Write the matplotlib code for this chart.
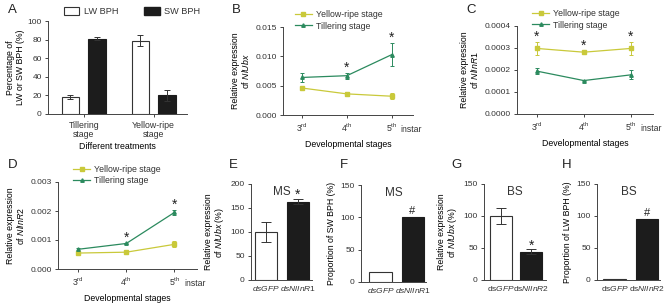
import matplotlib
matplotlib.use('Agg')
import matplotlib.pyplot as plt
from matplotlib.patches import Patch
from matplotlib.lines import Line2D

W, H = 669, 303
plt.rcParams['font.family'] = ['Liberation Sans', 'DejaVu Sans']
plt.rcParams['font.size'] = 6.0
plt.rcParams['axes.edgecolor'] = '#444444'
plt.rcParams['axes.linewidth'] = 0.7
plt.rcParams['xtick.color'] = '#444444'
plt.rcParams['ytick.color'] = '#444444'
plt.rcParams['xtick.labelcolor'] = '#333333'
plt.rcParams['ytick.labelcolor'] = '#333333'
plt.rcParams['xtick.major.size'] = 2.5
plt.rcParams['ytick.major.size'] = 2.5
plt.rcParams['xtick.major.width'] = 0.7
plt.rcParams['ytick.major.width'] = 0.7
plt.rcParams['xtick.major.pad'] = 2.5
plt.rcParams['ytick.major.pad'] = 2
plt.rcParams['text.color'] = '#333333'
plt.rcParams['mathtext.fontset'] = 'custom'
plt.rcParams['mathtext.rm'] = 'Liberation Sans'
plt.rcParams['mathtext.it'] = 'Liberation Sans:italic'
plt.rcParams['mathtext.default'] = 'regular'

YELLOW = '#c9c93a'
GREEN = '#2b8a5e'
LBL = 6.3

# panel A
a_groups = ['Tillering\nstage', 'Yellow-ripe\nstage']
a_lw = [18, 79]
a_lw_err = [2, 5.5]
a_sw = [81, 20]
a_sw_err = [1.5, 6]

# panels B, C, D
stages = ['3$^{rd}$', '4$^{th}$', '5$^{th}$']
b_yellow = [0.0046, 0.0036, 0.0032]
b_yellow_err = [0.0002, 0.0003, 0.0005]
b_till = [0.0064, 0.0067, 0.0103]
b_till_err = [0.0007, 0.0005, 0.0020]
b_star = [1, 2]

c_yellow = [0.000298, 0.000281, 0.000298]
c_yellow_err = [0.00003, 0.000006, 0.00003]
c_till = [0.000195, 0.000152, 0.000178]
c_till_err = [0.000012, 0.000004, 0.00002]
c_star = [0, 1, 2]

d_yellow = [0.00055, 0.00058, 0.00085]
d_yellow_err = [0.00003, 0.00003, 0.0001]
d_till = [0.00068, 0.00088, 0.00195]
d_till_err = [0.00005, 0.00003, 0.0001]
d_star = [1, 2]

# panels E-H
e_labels = ['$\\it{dsGFP}$', '$\\it{dsNlInR1}$']
e_vals = [100, 163]
e_err = [20, 5]
f_vals = [16, 100]
g_labels = ['ds$\\it{GFP}$', 'ds$\\it{NlInR2}$']
g_vals = [100, 44]
g_err = [12, 4]
h_vals = [1, 95]


def box(l, r, t, b):
    return [l / W, 1 - b / H, (r - l) / W, (b - t) / H]


def style(ax):
    for s in ['top', 'right']:
        ax.spines[s].set_visible(False)


fig = plt.figure(figsize=(W / 100, H / 100), dpi=100)


def letter(x, y, s):
    fig.text(x / W, 1 - y / H, s, fontsize=9.5, ha='left', va='center', color='#222222')


# ---- A ----
ax = fig.add_axes(box(48, 187, 21, 114))
style(ax)
x = [0, 1]
ax.bar([i - 0.19 for i in x], a_lw, 0.25, color='white', edgecolor='#333333', linewidth=0.8,
       yerr=a_lw_err, error_kw=dict(lw=0.7, capsize=2.5, capthick=0.7, ecolor='#333333'))
ax.bar([i + 0.19 for i in x], a_sw, 0.25, color='#1c1c1c', edgecolor='#1c1c1c', linewidth=0.8,
       yerr=a_sw_err, error_kw=dict(lw=0.7, capsize=2.5, capthick=0.7, ecolor='#333333'))
ax.set_xlim(-0.51, 1.475)
ax.set_ylim(0, 100)
ax.set_yticks([0, 20, 40, 60, 80, 100])
ax.set_xticks(x)
ax.set_xticklabels(a_groups, fontsize=LBL, linespacing=1.05)
ax.set_xlabel('Different treatments', fontsize=LBL, labelpad=2)
ax.set_ylabel('Percentage of\nLW or SW BPH (%)', fontsize=LBL, linespacing=1.05, labelpad=2)
ax.legend(handles=[Patch(facecolor='white', edgecolor='#333333', lw=0.8, label='LW BPH'),
                   Patch(facecolor='#1c1c1c', edgecolor='#1c1c1c', label='SW BPH')],
          ncol=2, frameon=False, fontsize=LBL + 0.3, loc='lower left', bbox_to_anchor=(0.08, 1.0),
          handlelength=1.7, handleheight=1.0, columnspacing=2.8, borderpad=0, handletextpad=0.5)
letter(8, 10, 'A')


def line_panel(pos, yellow, yerr, till, terr, stars, ylim, yticks, fmt, gene, lx):
    ax = fig.add_axes(box(*pos))
    style(ax)
    xs = [0, 1, 2]
    ax.errorbar(xs, yellow, yerr=yerr, color=YELLOW, marker='s', ms=2.2, lw=0.9,
                elinewidth=0.7, capsize=1.5, capthick=0.7)
    ax.errorbar(xs, till, yerr=terr, color=GREEN, marker='^', ms=2.5, lw=0.9,
                elinewidth=0.7, capsize=1.5, capthick=0.7)
    span = ylim[1] - ylim[0]
    for i in stars:
        top = max(yellow[i] + yerr[i], till[i] + terr[i])
        ax.text(i, top - span * 0.02, '*', ha='center', va='bottom', fontsize=10, color='#222222')
    ax.set_xlim(-0.42, 2.47)
    ax.set_ylim(*ylim)
    ax.set_yticks(yticks)
    ax.set_yticklabels([fmt.format(v) for v in yticks])
    ax.set_xticks(xs)
    ax.set_xticklabels(stages, fontsize=LBL)
    ax.text(2.2, -0.115, 'instar', transform=ax.get_xaxis_transform(), fontsize=LBL, va='top')
    ax.set_xlabel('Developmental stages', fontsize=LBL, labelpad=4)
    ax.set_ylabel('Relative expression\nof $\\it{' + gene + '}$', fontsize=LBL, linespacing=1.05, labelpad=3)
    ax.legend(handles=[Line2D([], [], color=YELLOW, marker='s', ms=2.2, lw=0.9, label='Yellow-ripe stage'),
                       Line2D([], [], color=GREEN, marker='^', ms=2.5, lw=0.9, label='Tillering stage')],
              frameon=False, fontsize=LBL, loc='lower left', bbox_to_anchor=(lx, 0.91),
              handlelength=1.9, handletextpad=0.5, labelspacing=0.3, borderpad=0)
    return ax


line_panel((283, 413, 27, 115), b_yellow, b_yellow_err, b_till, b_till_err, b_star,
           (0, 0.015), [0, 0.005, 0.010, 0.015], '{:.3f}', 'NlUbx', 0.06)
letter(232, 10, 'B')
line_panel((517, 653, 26, 114), c_yellow, c_yellow_err, c_till, c_till_err, c_star,
           (0, 0.0004), [0, 0.0001, 0.0002, 0.0003, 0.0004], '{:.4f}', 'NlInR1', 0.08)
letter(466, 10, 'C')
line_panel((58, 197, 182, 269), d_yellow, d_yellow_err, d_till, d_till_err, d_star,
           (0, 0.003), [0, 0.001, 0.002, 0.003], '{:.3f}', 'NlInR2', 0.08)
letter(8, 165, 'D')


def bar_panel(pos, vals, err, labels, xlim, width, ylim, yticks, ylabel, title, mark, markv):
    ax = fig.add_axes(box(*pos))
    style(ax)
    ekw = dict(lw=0.7, capsize=3.5, capthick=0.7, ecolor='#333333')
    ax.bar([0], vals[0], width, color='white', edgecolor='#333333', linewidth=0.8,
           yerr=None if err is None else [err[0]], error_kw=ekw)
    ax.bar([1], vals[1], width, color='#1c1c1c', edgecolor='#1c1c1c', linewidth=0.8,
           yerr=None if err is None else [err[1]], error_kw=ekw)
    ax.set_xlim(*xlim)
    ax.set_ylim(*ylim)
    ax.set_yticks(yticks)
    ax.set_xticks([0, 1])
    ax.set_xticklabels(labels, fontsize=6.0)
    ax.tick_params(axis='x', length=0, pad=3)
    ax.set_ylabel(ylabel, fontsize=LBL, linespacing=1.05, labelpad=3)
    ax.text(0.5, 0.92, title, transform=ax.transAxes, ha='center', va='center', fontsize=8.5)
    if mark == '#':
        ax.text(1, markv, mark, ha='center', va='bottom', fontsize=8, color='#222222')
    else:
        ax.text(1, markv - 6, mark, ha='center', va='bottom', fontsize=10, color='#222222')
    return ax


bar_panel((251, 312, 184, 280), e_vals, e_err, e_labels, (-0.47, 1.44), 0.69,
          (0, 200), [0, 50, 100, 150, 200], 'Relative expression\nof $\\it{NlUbx}$ (%)', 'MS', '*', 168)
letter(229, 165, 'E')
bar_panel((361, 426, 185, 282), f_vals, None, e_labels, (-0.61, 1.42), 0.69,
          (0, 150), [0, 50, 100, 150], 'Proportion of SW BPH (%)', 'MS', '#', 102)
letter(340, 165, 'F')
bar_panel((484, 546, 184, 280), g_vals, g_err, g_labels, (-0.57, 1.5), 0.76,
          (0, 150), [0, 50, 100, 150], 'Relative expression\nof $\\it{NlUbx}$ (%)', 'BS', '*', 48)
letter(451, 165, 'G')
bar_panel((597, 660, 184, 280), h_vals, None, g_labels, (-0.54, 1.4), 0.68,
          (0, 150), [0, 50, 100, 150], 'Proportion of LW BPH (%)', 'BS', '#', 97)
letter(562, 165, 'H')

fig.savefig('out.png', dpi=100)
